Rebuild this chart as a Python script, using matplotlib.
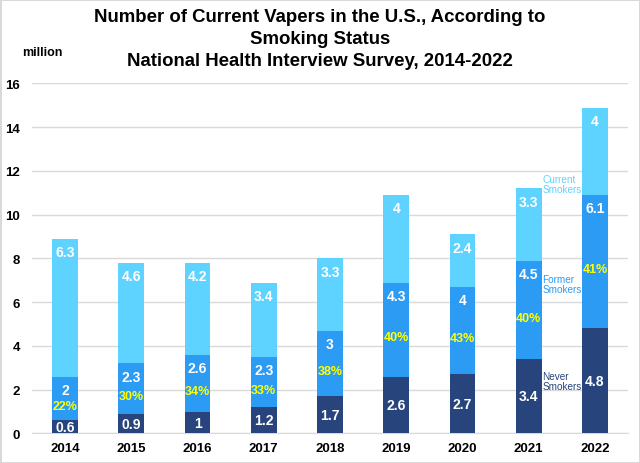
import numpy as np
import matplotlib
matplotlib.use("Agg")
import matplotlib.pyplot as plt

plt.rcParams['font.family'] = ['Liberation Sans', 'DejaVu Sans']

# survey years and vapers by smoking status (million)
years = ['2014', '2015', '2016', '2017', '2018', '2019', '2020', '2021', '2022']
never = [0.6, 0.9, 1, 1.2, 1.7, 2.6, 2.7, 3.4, 4.8]
former = [2, 2.3, 2.6, 2.3, 3, 4.3, 4, 4.5, 6.1]
current = [6.3, 4.6, 4.2, 3.4, 3.3, 4, 2.4, 3.3, 4]
former_pct = ['22%', '30%', '34%', '33%', '38%', '40%', '43%', '40%', '41%']

c_never = '#27457C'
c_former = '#2B9BF4'
c_current = '#5FD3FF'

fig = plt.figure(figsize=(6.4, 4.64), dpi=100)
fig.patch.set_edgecolor('#D9D9D9')
fig.patch.set_linewidth(2)
ax = fig.add_axes([0.05, 0.0636, 0.93125, 0.7543])

x = np.arange(len(years))
never = np.array(never, dtype=float)
former = np.array(former, dtype=float)
current = np.array(current, dtype=float)
w = 0.39

ax.bar(x, never, w, color=c_never, zorder=3)
ax.bar(x, former, w, bottom=never, color=c_former, zorder=3)
ax.bar(x, current, w, bottom=never + former, color=c_current, zorder=3)

lab = dict(color='white', fontsize=10, fontweight='bold', ha='center', va='center', zorder=4)
for i in range(len(years)):
    ax.text(x[i], never[i] / 2, f'{never[i]:g}', **lab)
    top_f = never[i] + former[i]
    ax.text(x[i], top_f - 0.6, f'{former[i]:g}', **lab)
    ax.text(x[i], (never[i] + top_f - 0.6) / 2 - 0.05, former_pct[i],
            color='#FFFF00', fontsize=9, fontweight='bold', ha='center', va='center', zorder=4)
    ax.text(x[i], top_f + current[i] - 0.6, f'{current[i]:g}', **lab)

# series names beside the 2021 bar
sx = x[7] + w / 2 + 0.01
ax.text(sx, 11.4, 'Current\nSmokers', color=c_current, fontsize=7.2, ha='left', va='center', linespacing=1.0)
ax.text(sx, 6.83, 'Former\nSmokers', color=c_former, fontsize=7.2, ha='left', va='center', linespacing=1.0)
ax.text(sx, 2.4, 'Never\nSmokers', color=c_never, fontsize=7.2, ha='left', va='center', linespacing=1.0)

ax.set_xlim(-0.5, 8.5)
ax.set_ylim(0, 16)
ax.set_yticks(range(0, 17, 2))
ax.set_xticks(x)
ax.set_xticklabels(years)
ax.grid(axis='y', color='#D9D9D9', linewidth=1, zorder=0)
for s in ['top', 'right', 'left']:
    ax.spines[s].set_visible(False)
ax.spines['bottom'].set_color('#D9D9D9')
ax.tick_params(length=0, labelsize=9.5)
ax.tick_params(axis='y', pad=8.5)
ax.tick_params(axis='x', pad=6)
for t in ax.get_xticklabels() + ax.get_yticklabels():
    t.set_fontweight('bold')

fig.text(0.5, 1 - 18 / 464, 'Number of Current Vapers in the U.S., According to',
         ha='center', va='center', fontsize=13.4, fontweight='bold')
fig.text(0.5, 1 - 40 / 464, 'Smoking Status', ha='center', va='center', fontsize=13.4, fontweight='bold')
fig.text(0.5, 1 - 61 / 464, 'National Health Interview Survey, 2014-2022',
         ha='center', va='center', fontsize=13.4, fontweight='bold')
fig.text(22 / 640, 1 - 53 / 464, 'million', ha='left', va='center', fontsize=9, fontweight='bold')

fig.savefig('out.png', dpi=100)
